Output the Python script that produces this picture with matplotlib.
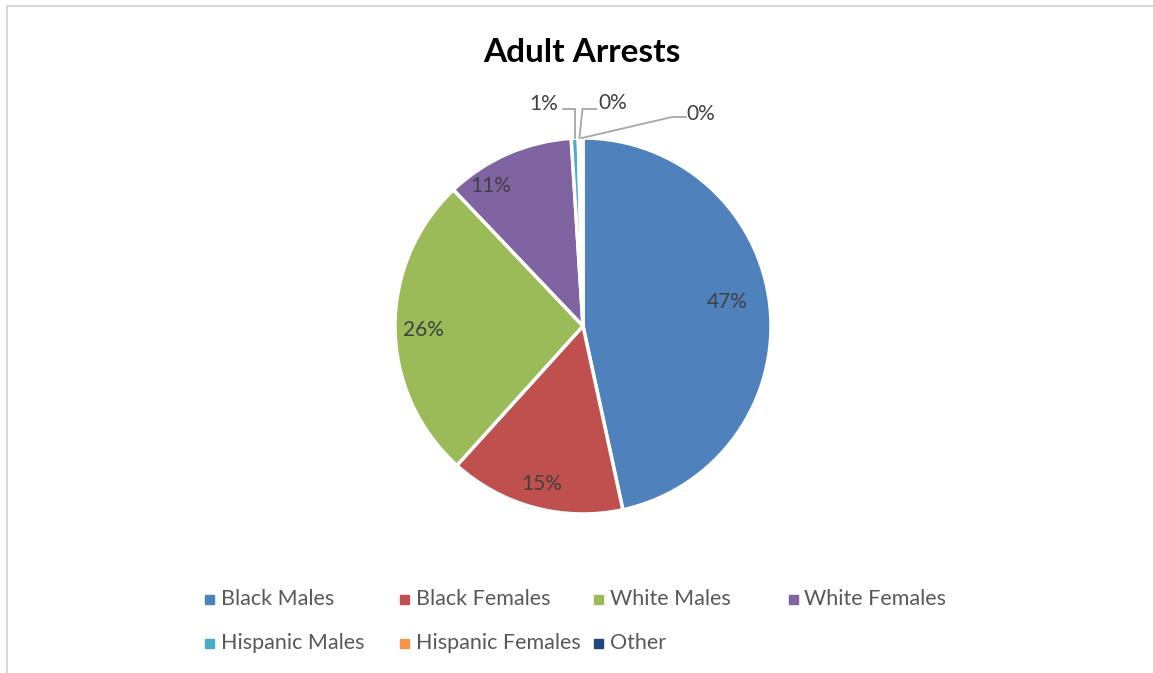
import numpy as np
import matplotlib
matplotlib.use("Agg")
import matplotlib.pyplot as plt
from matplotlib.patches import Rectangle

plt.rcParams["font.family"] = ["Lato", "DejaVu Sans"]

groups = ["Black Males", "Black Females", "White Males", "White Females",
          "Hispanic Males", "Hispanic Females", "Other"]
shares = [46.6, 15.1, 26.2, 11.1, 0.6, 0.2, 0.2]
colors = ["#4F81BD", "#C0504D", "#9BBB59", "#8064A2",
          "#4BACC6", "#F79646", "#1F497D"]

W, H = 1153, 673
fig = plt.figure(figsize=(W / 100, H / 100), dpi=100)
ax = fig.add_axes([0, 0, 1, 1])

cx, cy, R = 583, H - 326, 188
wedges, _, pcts = ax.pie(shares, colors=colors, center=(cx, cy), radius=R,
                         startangle=90, counterclock=False, autopct="%1.0f%%",
                         frame=True,
                         wedgeprops=dict(edgecolor="white", linewidth=2.5),
                         textprops=dict(fontsize=15, color="#404040"))
ax.set_xlim(0, W); ax.set_ylim(0, H); ax.set_aspect("equal"); ax.axis("off")

# inside labels: radius fraction and angle nudge (deg) per slice
label_r = [0.78, 0.86, 0.85, 0.90]
label_dang = [4, 0, 0, 9.5]
for i, (r, da) in enumerate(zip(label_r, label_dang)):
    ang = np.deg2rad((wedges[i].theta1 + wedges[i].theta2) / 2 + da)
    pcts[i].set_position((cx + r * R * np.cos(ang), cy + r * R * np.sin(ang) - 2))

# tiny slices: labels pulled outside with elbow leader lines
outside = {4: ((563, H - 109), (558, H - 104), "right"),
           5: ((596, H - 109), (598, H - 103), "left"),
           6: ((686, H - 117), (686, H - 114), "left")}
for i, w in enumerate(wedges):
    if i not in outside:
        continue
    pcts[i].set_visible(False)
    ang = np.deg2rad((w.theta1 + w.theta2) / 2)
    tip = (cx + R * np.cos(ang), cy + R * np.sin(ang))
    end, txt, ha = outside[i]
    elbow_x = {4: tip[0], 5: tip[0] + 3, 6: end[0] - 14}[i]
    ax.plot([tip[0], elbow_x, end[0]], [tip[1], end[1], end[1]],
            color="#A6A6A6", lw=1.3, solid_joinstyle="miter")
    ax.text(txt[0], txt[1], pcts[i].get_text(), ha=ha, va="center",
            fontsize=15, color="#404040")

ax.text(582, H - 52, "Adult Arrests", ha="center", va="center",
        fontsize=24, fontweight="bold", color="black")

# legend, four per row
for i, (g, c) in enumerate(zip(groups, colors)):
    row, col = divmod(i, 4)
    x0 = 205 + col * 194.5
    y0 = H - (599 + row * 44)
    ax.add_patch(Rectangle((x0, y0 - 4.5), 9, 9, color=c))
    ax.text(x0 + 16, y0, g, ha="left", va="center", fontsize=15.5,
            color="#595959")

# chart area border
ax.plot([7, 7, W], [0, H - 6, H - 6], color="#D9D9D9", lw=1.5)

fig.savefig("out.png", dpi=100)
